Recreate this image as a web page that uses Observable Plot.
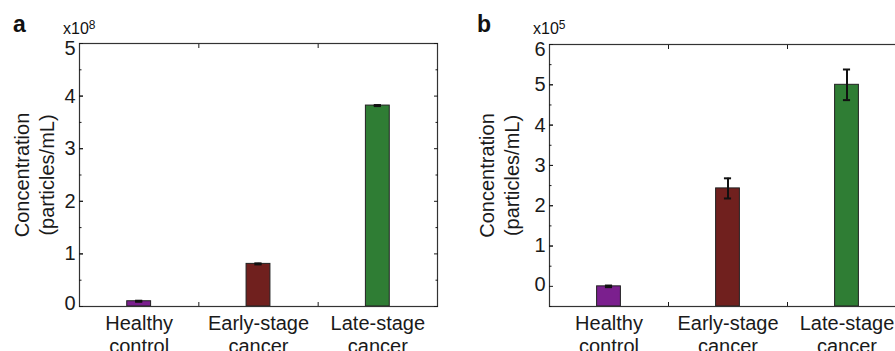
<!DOCTYPE html>
<html><head><meta charset="utf-8">
<script src="https://cdn.jsdelivr.net/npm/d3@7"></script>
<script src="https://cdn.jsdelivr.net/npm/@observablehq/plot@0.6"></script>
<style>
html,body{margin:0;padding:0;background:#fff;overflow:hidden;}
#wrap{position:relative;width:895px;height:351px;overflow:hidden;font-family:"Liberation Sans",Arial,sans-serif;color:#111;}
.panel{position:absolute;top:0;height:351px;overflow:hidden;}
.panel svg{max-width:none !important;}
.letter{position:absolute;font-weight:bold;font-size:23px;line-height:23px;top:13px;}
.exp{position:absolute;font-size:16px;line-height:16px;top:21px;}
.exp span{font-size:12px;position:relative;top:-5px;}
</style></head>
<body>
<div id="wrap">
  <div class="panel" id="pa" style="left:0;width:450px"></div>
  <div class="panel" id="pb" style="left:450px;width:460px"></div>
  <div class="letter" style="left:13px">a</div>
  <div class="letter" style="left:477px">b</div>
  <div class="exp" style="left:63px">x10<span>8</span></div>
  <div class="exp" style="left:533px">x10<span>5</span></div>
</div>
<script>
const categories = ["Healthy control", "Early-stage cancer", "Late-stage cancer"];
const tickLabels = ["Healthy\ncontrol", "Early-stage\ncancer", "Late-stage\ncancer"];
const barColors = ["#7b1f8e", "#70201e", "#2f7d34"];

// Panel a (x10^8 particles/mL)
const valuesA = [0.10, 0.81, 3.82];
const errorsA = [0.01, 0.01, 0.01];
const yTicksA = [0, 1, 2, 3, 4, 5];
const yMinorA = [0.5, 1.5, 2.5, 3.5, 4.5];

// Panel b (x10^5 particles/mL)
const valuesB = [0.0, 2.43, 5.0];
const errorsB = [0.02, 0.25, 0.38];
const yTicksB = [0, 1, 2, 3, 4, 5, 6];
const yMinorB = [-0.5, 0.5, 1.5, 2.5, 3.5, 4.5, 5.5];

const yLabel = "Concentration\n(particles/mL)";

function panel(values, errors, yDomain, yTicks, yMinor, opts) {
  const rows = categories.map((c, i) => ({i, c, v: values[i], e: errors[i], color: barColors[i]}));
  const base = yDomain[0];
  const topTick = yTicks[yTicks.length - 1];
  const zeroTick = yTicks[0];
  const inner = yTicks.slice(1, -1);
  return Plot.plot({
    width: opts.width, height: 351,
    marginLeft: opts.marginLeft, marginRight: opts.marginRight,
    marginTop: opts.marginTop, marginBottom: 45,
    style: {fontFamily: "'Liberation Sans', Arial, sans-serif", fontSize: "20px", color: "#1a1a1a", background: "white"},
    x: {domain: [-0.5, 2.5], axis: null},
    y: {domain: yDomain, axis: null},
    marks: [
      Plot.rectY(rows, {x1: d => d.i - 0.1, x2: d => d.i + 0.1, y1: base, y2: "v", fill: "color", stroke: "#222", strokeWidth: 1}),
      Plot.ruleX(rows, {x: "i", y1: d => d.v - d.e, y2: d => d.v + d.e, stroke: "#111", strokeWidth: 2}),
      Plot.ruleY(rows, {y: d => d.v + d.e, x1: d => d.i - 0.03, x2: d => d.i + 0.03, stroke: "#111", strokeWidth: 2}),
      Plot.ruleY(rows, {y: d => d.v - d.e, x1: d => d.i - 0.03, x2: d => d.i + 0.03, stroke: "#111", strokeWidth: 2}),
      Plot.frame({stroke: "#333", strokeWidth: 1.2}),
      Plot.axisY(inner, {anchor: "left", tickSize: -4, tickPadding: 8, tickFormat: d => String(d), label: null}),
      Plot.axisY(yTicks, {anchor: "left", tickSize: -4, tickFormat: () => "", label: null}),
      Plot.axisY([topTick], {anchor: "left", tickSize: 0, tickPadding: 4, dy: 5, tickFormat: d => String(d), label: null}),
      Plot.axisY([zeroTick], {anchor: "left", tickSize: 0, tickPadding: 4, dy: opts.zeroDy, tickFormat: d => String(d), label: null}),
      Plot.axisY(yMinor, {anchor: "left", tickSize: -2.5, tickFormat: () => "", label: null}),
      Plot.axisY(yTicks, {anchor: "right", tickSize: -4, tickFormat: () => "", label: null}),
      Plot.axisY(yMinor, {anchor: "right", tickSize: -2.5, tickFormat: () => "", label: null}),
      Plot.axisX([0, 1, 2], {anchor: "bottom", tickSize: 0, tickPadding: 7, tickFormat: i => tickLabels[i], lineHeight: 1.15, label: null}),
      Plot.axisX([0.5, 1.5], {anchor: "bottom", tickSize: -4, tickFormat: () => "", label: null}),
      Plot.axisX([0.5, 1.5], {anchor: "top", tickSize: -4, tickFormat: () => "", label: null}),
      Plot.text([yLabel], {frameAnchor: "left", textAnchor: "middle", lineAnchor: "middle", rotate: -90, dx: opts.labelDx, lineHeight: 1.25, fontSize: 20, fill: "#1a1a1a"})
    ]
  });
}

document.getElementById("pa").append(panel(valuesA, errorsA, [0, 5], yTicksA, yMinorA,
  {width: 450, marginLeft: 79, marginRight: 13, marginTop: 43, labelDx: -46, zeroDy: -3}));
document.getElementById("pb").append(panel(valuesB, errorsB, [-0.5, 6], yTicksB, yMinorB,
  {width: 460, marginLeft: 99, marginRight: 4, marginTop: 44, labelDx: -51, zeroDy: -2}));
</script>
</body></html>
